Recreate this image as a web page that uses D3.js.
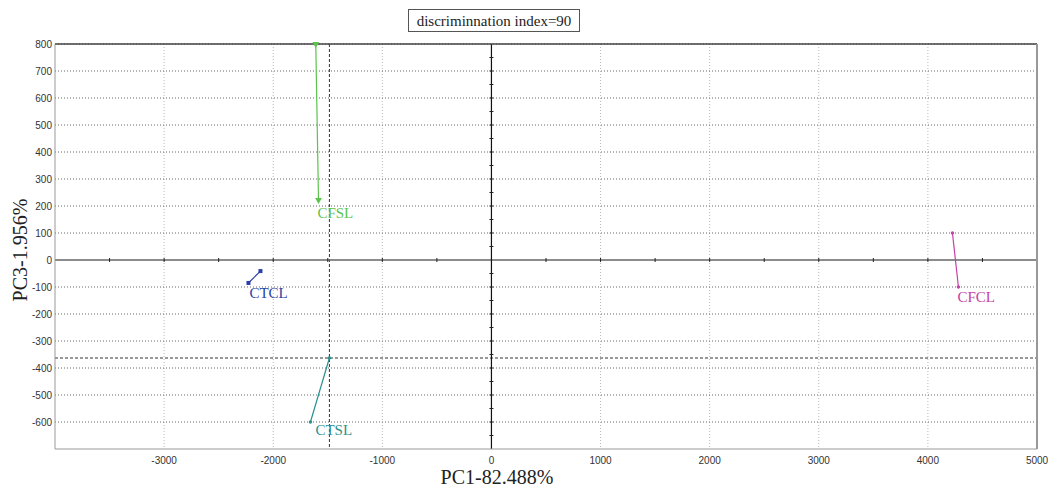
<!DOCTYPE html>
<html>
  <head>
    <meta charset=utf-8 />
    <title>PCA discrimination</title>
    <script src="https://cdnjs.cloudflare.com/ajax/libs/d3/7.8.5/d3.min.js"></script>
    <style>
      body { margin: 0; background: #fff; }
    </style>
  </head>
  <body>
    <div id="main-container"></div>
    <script>

  // data
  var groups = ["CFSL", "CTCL", "CTSL", "CFCL"];
  var groupColors = ["#5cc44c", "#2b3fa6", "#2a9191", "#c441a8"];
  var CFSL = [[-1610, 800], [-1585, 222]];
  var CTCL = [[-2227, -85], [-2117, -41]];
  var CTSL = [[-1485, -363], [-1659, -600]];
  var CFCL = [[4225, 100], [4280, -100]];
  var labelAt = [[-1595, 155], [-2218, -141], [-1613, -648], [4271, -156]];
  var xTicks = [-3000, -2000, -1000, 0, 1000, 2000, 3000, 4000, 5000];
  var yTicks = [-600, -500, -400, -300, -200, -100, 0, 100, 200, 300, 400, 500, 600, 700, 800];
  var crossAt = [-1485, -363];

  var width = 1050, height = 489;
  var mLeft = 55, mRight = 1037, mTop = 44, mBottom = 449;

  var svg = d3.select('#main-container').append('svg')
    .attr('width', width).attr('height', height);

  var xScale = d3.scaleLinear().domain([-4000, 5000]).range([mLeft, mRight]);
  var yScale = d3.scaleLinear().domain([-700, 800]).range([mBottom, mTop]);

  // grid
  svg.selectAll('.vgrid').data(xTicks.filter(function(d){ return d != 0; })).enter().append('line')
    .attr('x1', function(d){ return xScale(d); }).attr('x2', function(d){ return xScale(d); })
    .attr('y1', mTop).attr('y2', mBottom)
    .attr('stroke', '#b8b8b8').attr('stroke-dasharray', '1,2');
  svg.selectAll('.hgrid').data(yTicks.filter(function(d){ return d != 0; })).enter().append('line')
    .attr('x1', mLeft).attr('x2', mRight)
    .attr('y1', function(d){ return yScale(d); }).attr('y2', function(d){ return yScale(d); })
    .attr('stroke', '#666').attr('stroke-dasharray', '1,2');

  // crosshair
  svg.append('line').attr('x1', xScale(crossAt[0])).attr('x2', xScale(crossAt[0]))
    .attr('y1', mTop).attr('y2', mBottom)
    .attr('stroke', '#333').attr('stroke-dasharray', '3,2');
  svg.append('line').attr('x1', mLeft).attr('x2', mRight)
    .attr('y1', yScale(crossAt[1])).attr('y2', yScale(crossAt[1]))
    .attr('stroke', '#333').attr('stroke-dasharray', '3,2');

  // zero lines
  svg.append('line').attr('x1', mLeft).attr('x2', mRight)
    .attr('y1', yScale(0)).attr('y2', yScale(0)).attr('stroke', '#666').attr('stroke-width', 1.5);
  svg.append('line').attr('x1', xScale(0)).attr('x2', xScale(0))
    .attr('y1', mTop).attr('y2', mBottom).attr('stroke', '#111').attr('stroke-width', 1.2);

  // small ticks on zero lines
  var xMinor = d3.range(-3500, 5000, 500).filter(function(d){ return d != 0; });
  svg.selectAll('.xminor').data(xMinor).enter().append('line')
    .attr('x1', function(d){ return xScale(d); }).attr('x2', function(d){ return xScale(d); })
    .attr('y1', yScale(0) - 2).attr('y2', yScale(0) + 2).attr('stroke', '#222');
  var yMinor = d3.range(-650, 800, 50).filter(function(d){ return d != 0; });
  svg.selectAll('.yminor').data(yMinor).enter().append('line')
    .attr('x1', xScale(0) - 2).attr('x2', xScale(0) + 2)
    .attr('y1', function(d){ return yScale(d); }).attr('y2', function(d){ return yScale(d); })
    .attr('stroke', '#222');

  // frame
  svg.append('line').attr('x1', mLeft).attr('x2', mRight).attr('y1', mTop).attr('y2', mTop)
    .attr('stroke', '#444').attr('stroke-width', 1.5);
  svg.append('line').attr('x1', mLeft).attr('x2', mLeft).attr('y1', mTop).attr('y2', mBottom)
    .attr('stroke', '#999');
  svg.append('line').attr('x1', mLeft).attr('x2', mRight).attr('y1', mBottom).attr('y2', mBottom)
    .attr('stroke', '#999');
  svg.append('line').attr('x1', mRight).attr('x2', mRight).attr('y1', mTop).attr('y2', mBottom)
    .attr('stroke', '#999').attr('stroke-width', 2);

  // tick labels
  svg.selectAll('.xlab').data(xTicks).enter().append('text')
    .attr('x', function(d){ return xScale(d); }).attr('y', mBottom + 15)
    .attr('text-anchor', 'middle')
    .attr('font-family', 'Liberation Sans, Arial, sans-serif').attr('font-size', 10)
    .attr('fill', '#333')
    .text(function(d){ return d; });
  svg.selectAll('.ylab').data(yTicks).enter().append('text')
    .attr('x', mLeft - 3).attr('y', function(d){ return yScale(d) + 3.5; })
    .attr('text-anchor', 'end')
    .attr('font-family', 'Liberation Sans, Arial, sans-serif').attr('font-size', 10)
    .attr('fill', '#333')
    .text(function(d){ return d; });

  // series
  var series = [CFSL, CTCL, CTSL, CFCL];
  var line = d3.line().x(function(d){ return xScale(d[0]); }).y(function(d){ return yScale(d[1]); });
  series.forEach(function(pts, i){
    var c = groupColors[i];
    svg.append('path').attr('d', line(pts)).attr('fill', 'none')
      .attr('stroke', c).attr('stroke-width', 1.2);
    var sym = groups[i] == "CTCL" ? d3.symbolSquare : (groups[i] == "CFSL" ? d3.symbolTriangle : d3.symbolCircle);
    var size = groups[i] == "CTCL" ? 16 : (groups[i] == "CFSL" ? 20 : 9);
    svg.selectAll('.m' + i).data(pts).enter().append('path')
      .attr('d', d3.symbol().type(sym).size(size))
      .attr('transform', function(d){
        var rot = groups[i] == "CFSL" ? ' rotate(180)' : '';
        return 'translate(' + xScale(d[0]) + ',' + yScale(d[1]) + ')' + rot;
      })
      .attr('fill', c);
    svg.append('text')
      .attr('x', xScale(labelAt[i][0])).attr('y', yScale(labelAt[i][1]))
      .attr('font-family', 'Liberation Serif, Times New Roman, serif').attr('font-size', 15)
      .attr('fill', c)
      .text(groups[i]);
  });

  // title box
  svg.append('rect').attr('x', 408.5).attr('y', 9.5).attr('width', 171).attr('height', 22)
    .attr('fill', '#fff').attr('stroke', '#555');
  svg.append('text').attr('x', 494).attr('y', 26)
    .attr('text-anchor', 'middle')
    .attr('font-family', 'Liberation Serif, Times New Roman, serif').attr('font-size', 15)
    .attr('fill', '#222')
    .text('discriminnation index=90');

  // axis titles
  svg.append('text').attr('x', 497).attr('y', 484)
    .attr('text-anchor', 'middle')
    .attr('font-family', 'Liberation Serif, Times New Roman, serif').attr('font-size', 20)
    .attr('fill', '#222')
    .text('PC1-82.488%');
  svg.append('text').attr('transform', 'translate(27,250) rotate(-90)')
    .attr('text-anchor', 'middle')
    .attr('font-family', 'Liberation Serif, Times New Roman, serif').attr('font-size', 20)
    .attr('fill', '#222')
    .text('PC3-1.956%');

</script>
  </body>
</html>
